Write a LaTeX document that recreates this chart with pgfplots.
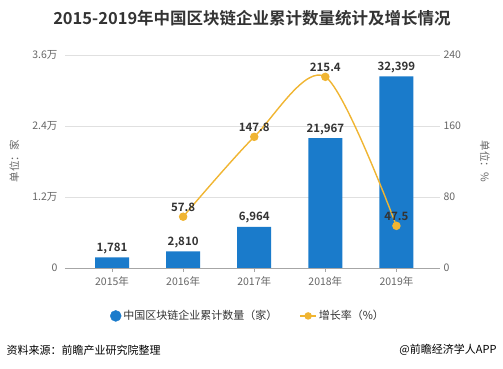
\documentclass[border=0pt]{standalone}
\usepackage{pgfplots}
\pgfplotsset{compat=1.18}
\usepackage{fontspec}
\setmainfont{Noto Sans CJK SC}[BoldFont={Noto Sans CJK SC Bold}]
\definecolor{barblue}{HTML}{1A7BCB}
\definecolor{lineorange}{HTML}{F0B532}
\definecolor{txt}{HTML}{333333}
\definecolor{tickc}{HTML}{666666}
\definecolor{gridc}{HTML}{E0E0E0}
\pgfplotsset{/pgf/number format/assume math mode=true}
\begin{document}
\begin{tikzpicture}[x=1pt,y=1pt]
\useasboundingbox (0,0) rectangle (503,369);
\begin{axis}[
  at={(65pt,101pt)}, anchor=south west,
  scale only axis, width=375pt, height=213pt,
  xmin=-0.662, xmax=4.613, ymin=0, ymax=36000,
  scaled y ticks=false,
  axis x line*=bottom, axis y line*=left,
  x axis line style={-, draw=gray!70},
  y axis line style={draw=none},
  ytick={0,12000,24000,36000},
  yticklabels={0,1.2万,2.4万,3.6万},
  xtick={0,1,2,3,4},
  xticklabels={2015年,2016年,2017年,2018年,2019年},
  ytick style={draw=none},
  xtick style={draw=gray!70, thin},
  tick align=outside, major tick length=4pt,
  ymajorgrids, grid style={gridc, thin},
  tick label style={font=\fontsize{10.5}{12}\selectfont, color=tickc},
  xticklabel style={yshift=-1pt},
  ylabel={单位：家}, ylabel style={font=\fontsize{10.5}{12}\selectfont, color=tickc, at={(axis description cs:-0.135,0.5)}, anchor=center},
  clip=false,
]
\addplot[ybar, bar width=34pt, fill=barblue, draw=none,
  nodes near coords, nodes near coords style={font=\bfseries\fontsize{11.5}{13}\selectfont, color=txt, /pgf/number format/.cd, 1000 sep={,}, fixed}]
  coordinates {(0,1781) (1,2810) (2,6964) (3,21967) (4,32399)};
\end{axis}
\begin{axis}[
  at={(65pt,101pt)}, anchor=south west,
  scale only axis, width=375pt, height=213pt,
  xmin=-0.662, xmax=4.613, ymin=0, ymax=240,
  axis x line=none, axis y line*=right,
  y axis line style={draw=none}, ytick style={draw=none},
  ytick={0,80,160,240}, yticklabels={0,80,160,240},
  tick label style={font=\fontsize{10.5}{12}\selectfont, color=tickc},
  ylabel={单位：\%}, ylabel style={font=\fontsize{10.5}{12}\selectfont, color=tickc, at={(axis description cs:1.12,0.5)}, anchor=center, rotate=180},
  clip=false,
  legend columns=2,
  legend style={at={(0.488,-0.225)}, anchor=center, draw=none, fill=none,
    font=\fontsize{11}{13}\selectfont, text=txt,
    /tikz/every even column/.append style={column sep=20pt}},
]
\addlegendimage{legend image code/.code={\fill[barblue] (8pt,0pt) circle (5.5pt);}}
\addlegendentry{中国区块链企业累计数量（家）}
\addplot[smooth, tension=0.5, color=lineorange, line width=1.4pt, mark=*, mark size=3.5pt,
  mark options={fill=lineorange, draw=lineorange},
  legend image code/.code={\draw[lineorange, line width=1.4pt] (0pt,0pt) -- (16pt,0pt); \fill[lineorange] (8pt,0pt) circle (3pt);},
  point meta=explicit symbolic,
  nodes near coords, nodes near coords style={font=\bfseries\fontsize{11.5}{13}\selectfont, color=txt, yshift=1pt}]
  coordinates {(1,57.8) [57.8] (2,147.8) [147.8] (3,215.4) [215.4] (4,47.5) [47.5]};
\addlegendentry{增长率（\%）}
\end{axis}
\node[font=\bfseries\fontsize{16.5}{19}\selectfont, color=txt] at (252,351) {2015-2019年中国区块链企业累计数量统计及增长情况};
\node[font=\fontsize{11}{13}\selectfont, color=black, anchor=west] at (3,19) {资料来源：前瞻产业研究院整理};
\node[font=\fontsize{11}{13}\selectfont, color=black, anchor=east] at (500,19) {@前瞻经济学人APP};
\end{tikzpicture}
\end{document}
